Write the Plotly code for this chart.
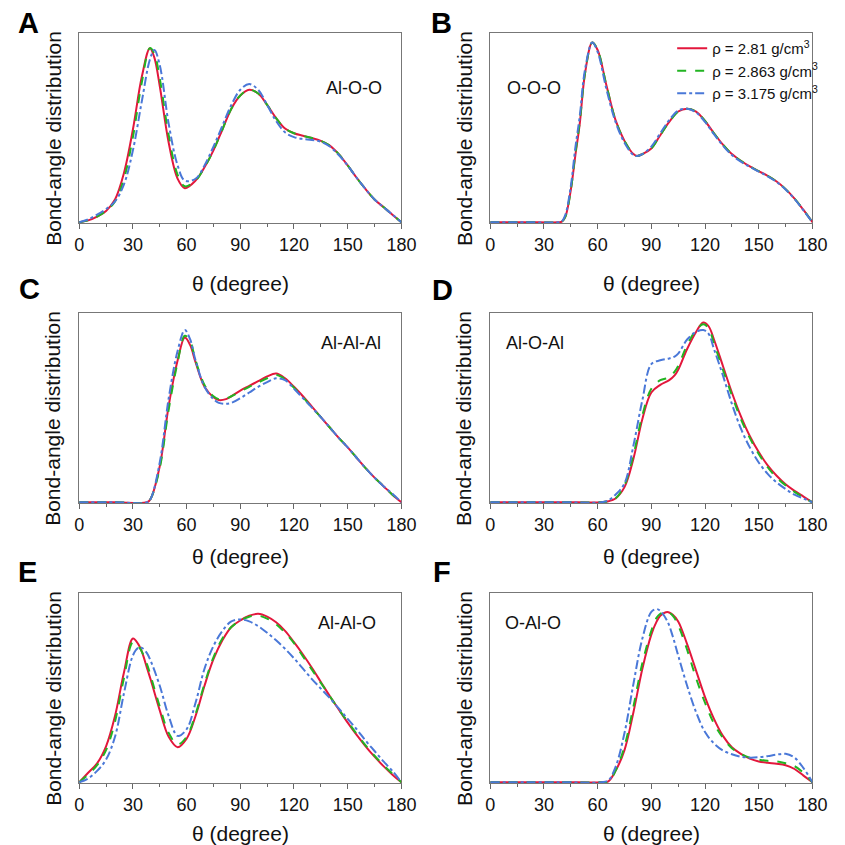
import plotly.graph_objects as go

# ---------------- data ----------------
series_names = ["ρ = 2.81 g/cm<sup>3</sup>", "ρ = 2.863 g/cm<sup>3</sup>", "ρ = 3.175 g/cm<sup>3</sup>"]
panel_labels = ["A", "B", "C", "D", "E", "F"]
bond_names = ["Al-O-O", "O-O-O", "Al-Al-Al", "Al-O-Al", "Al-Al-O", "O-Al-O"]
x_ticks = [0, 30, 60, 90, 120, 150, 180]

# Panel A: Al-O-O
xA = [0, 5, 10, 15, 20, 25, 30, 35, 39.5, 42, 45, 50, 55, 59, 65, 70, 75, 80, 85, 90, 95, 100,
      105, 110, 115, 120, 125, 130, 135, 140, 145, 150, 155, 160, 165, 170, 175, 180]
A_red = [0, 0.01, 0.03, 0.06, 0.12, 0.26, 0.49, 0.77, 0.92, 0.87, 0.72, 0.42, 0.23, 0.18, 0.22, 0.29,
         0.38, 0.49, 0.60, 0.67, 0.70, 0.68, 0.62, 0.55, 0.495, 0.47, 0.457, 0.445, 0.43, 0.405, 0.36,
         0.30, 0.235, 0.175, 0.12, 0.08, 0.04, 0]
A_green = [0, 0.01, 0.03, 0.06, 0.11, 0.23, 0.45, 0.74, 0.92, 0.89, 0.76, 0.46, 0.25, 0.19, 0.22, 0.29,
           0.38, 0.49, 0.60, 0.67, 0.70, 0.68, 0.62, 0.55, 0.495, 0.47, 0.457, 0.445, 0.43, 0.405, 0.36,
           0.30, 0.235, 0.175, 0.12, 0.08, 0.04, 0]
A_blue = [0, 0.015, 0.04, 0.07, 0.11, 0.20, 0.38, 0.64, 0.86, 0.91, 0.83, 0.52, 0.30, 0.22, 0.23, 0.30,
          0.40, 0.51, 0.62, 0.70, 0.73, 0.70, 0.62, 0.535, 0.475, 0.45, 0.44, 0.435, 0.425, 0.40,
          0.355, 0.30, 0.235, 0.175, 0.12, 0.08, 0.04, 0]

# Panel B: O-O-O
xB = [0, 20, 38, 40, 42, 45, 47.5, 50, 53, 57, 60, 65, 70, 75, 80, 82, 85, 90, 95, 100, 105, 110,
      115, 120, 125, 130, 135, 140, 145, 150, 155, 160, 165, 170, 175, 180]
B_red = [0, 0, 0, 0.003, 0.03, 0.17, 0.35, 0.52, 0.79, 0.95, 0.91, 0.72, 0.54, 0.43, 0.36, 0.35, 0.36,
         0.39, 0.46, 0.53, 0.585, 0.60, 0.585, 0.535, 0.47, 0.41, 0.36, 0.325, 0.295, 0.27, 0.245,
         0.215, 0.175, 0.125, 0.065, 0]
B_green = [0, 0, 0, 0.003, 0.03, 0.17, 0.36, 0.53, 0.79, 0.95, 0.91, 0.72, 0.54, 0.43, 0.36, 0.35, 0.36,
           0.39, 0.46, 0.53, 0.585, 0.60, 0.585, 0.535, 0.47, 0.41, 0.36, 0.325, 0.295, 0.27, 0.245,
           0.215, 0.175, 0.125, 0.065, 0]
B_blue = [0, 0, 0, 0.005, 0.04, 0.19, 0.39, 0.56, 0.81, 0.95, 0.90, 0.70, 0.53, 0.42, 0.355, 0.35, 0.36,
          0.40, 0.47, 0.54, 0.59, 0.60, 0.58, 0.53, 0.465, 0.405, 0.355, 0.32, 0.293, 0.268, 0.243,
          0.213, 0.173, 0.123, 0.063, 0]

# Panel C: Al-Al-Al
xC = [0, 20, 38, 40, 45, 50, 55, 59, 62, 65, 70, 75, 78, 82, 85, 90, 95, 100, 105, 110, 115, 120,
      125, 130, 135, 140, 145, 150, 155, 160, 165, 170, 175, 180]
C_red = [0, 0, 0, 0.02, 0.19, 0.51, 0.75, 0.87, 0.83, 0.74, 0.61, 0.555, 0.54, 0.545, 0.56, 0.59, 0.615,
         0.64, 0.665, 0.68, 0.655, 0.61, 0.56, 0.505, 0.45, 0.395, 0.34, 0.29, 0.235, 0.18, 0.13, 0.085,
         0.04, 0]
C_green = [0, 0, 0, 0.02, 0.18, 0.49, 0.74, 0.88, 0.85, 0.75, 0.62, 0.56, 0.545, 0.548, 0.56, 0.585,
           0.61, 0.632, 0.655, 0.672, 0.65, 0.605, 0.555, 0.50, 0.45, 0.395, 0.34, 0.29, 0.235, 0.18,
           0.13, 0.085, 0.04, 0]
C_blue = [0, 0, 0, 0.02, 0.21, 0.55, 0.80, 0.91, 0.86, 0.75, 0.61, 0.545, 0.525, 0.52, 0.525, 0.55,
          0.58, 0.61, 0.635, 0.655, 0.645, 0.60, 0.55, 0.50, 0.45, 0.395, 0.34, 0.29, 0.235, 0.18,
          0.13, 0.085, 0.045, 0]

# Panel D: Al-O-Al
xD = [0, 40, 62, 66, 70, 75, 80, 85, 90, 95, 100, 103, 105, 110, 115, 119, 122, 125, 130, 135, 140,
      145, 150, 155, 160, 165, 170, 175, 180]
D_red = [0, 0, 0, 0.005, 0.02, 0.08, 0.23, 0.44, 0.58, 0.62, 0.645, 0.67, 0.70, 0.81, 0.90, 0.95,
         0.93, 0.86, 0.72, 0.58, 0.455, 0.35, 0.265, 0.195, 0.14, 0.095, 0.06, 0.03, 0]
D_green = [0, 0, 0, 0.005, 0.02, 0.09, 0.25, 0.46, 0.60, 0.645, 0.66, 0.69, 0.72, 0.83, 0.91, 0.94,
           0.92, 0.84, 0.70, 0.565, 0.44, 0.34, 0.255, 0.185, 0.13, 0.09, 0.055, 0.025, 0]
D_blue = [0, 0, 0, 0.01, 0.04, 0.10, 0.30, 0.54, 0.73, 0.75, 0.76, 0.77, 0.785, 0.86, 0.90, 0.91,
          0.89, 0.81, 0.67, 0.52, 0.39, 0.29, 0.21, 0.15, 0.105, 0.07, 0.04, 0.02, 0]

# Panel E: Al-Al-O
xE = [0, 5, 10, 15, 20, 25, 30, 33, 35, 38, 40, 45, 50, 55, 60, 65, 70, 75, 80, 85, 90, 95, 100,
      105, 110, 115, 120, 125, 130, 135, 140, 145, 150, 155, 160, 165, 170, 175, 180]
E_red = [0, 0.05, 0.10, 0.19, 0.35, 0.58, 0.76, 0.73, 0.69, 0.60, 0.54, 0.38, 0.24, 0.185, 0.23,
         0.35, 0.51, 0.65, 0.75, 0.82, 0.855, 0.88, 0.89, 0.875, 0.845, 0.80, 0.74, 0.675, 0.605, 0.53,
         0.455, 0.385, 0.315, 0.25, 0.19, 0.135, 0.085, 0.04, 0]
E_green = [0, 0.04, 0.09, 0.17, 0.32, 0.55, 0.74, 0.72, 0.69, 0.62, 0.56, 0.40, 0.26, 0.20, 0.24,
           0.36, 0.52, 0.66, 0.76, 0.82, 0.855, 0.875, 0.88, 0.865, 0.835, 0.79, 0.735, 0.665, 0.595,
           0.525, 0.455, 0.385, 0.32, 0.255, 0.195, 0.14, 0.09, 0.045, 0]
E_blue = [0, 0.02, 0.06, 0.12, 0.24, 0.47, 0.67, 0.71, 0.71, 0.68, 0.64, 0.51, 0.35, 0.245, 0.28,
          0.42, 0.60, 0.72, 0.80, 0.85, 0.86, 0.85, 0.825, 0.79, 0.75, 0.705, 0.655, 0.60, 0.545,
          0.495, 0.445, 0.39, 0.335, 0.28, 0.22, 0.165, 0.11, 0.06, 0]

# Panel F: O-Al-O
xF = [0, 40, 62, 66, 70, 75, 80, 85, 90, 93, 95, 99, 102, 105, 110, 115, 120, 125, 130, 135, 140,
      145, 150, 155, 160, 165, 170, 175, 180]
F_red = [0, 0, 0, 0.005, 0.06, 0.17, 0.37, 0.60, 0.78, 0.85, 0.88, 0.90, 0.885, 0.85, 0.73, 0.59,
         0.45, 0.335, 0.245, 0.185, 0.15, 0.125, 0.11, 0.103, 0.098, 0.09, 0.07, 0.035, 0]
F_green = [0, 0, 0, 0.005, 0.06, 0.19, 0.40, 0.63, 0.80, 0.87, 0.89, 0.90, 0.88, 0.83, 0.70, 0.55,
           0.42, 0.31, 0.235, 0.18, 0.15, 0.13, 0.12, 0.113, 0.11, 0.10, 0.085, 0.05, 0]
F_blue = [0, 0, 0, 0.01, 0.08, 0.26, 0.52, 0.76, 0.90, 0.915, 0.905, 0.85, 0.77, 0.67, 0.51, 0.37,
          0.265, 0.205, 0.168, 0.148, 0.135, 0.13, 0.132, 0.138, 0.146, 0.15, 0.13, 0.075, 0]

panels = [
    (xA, [A_red, A_green, A_blue]),
    (xB, [B_red, B_green, B_blue]),
    (xC, [C_red, C_green, C_blue]),
    (xD, [D_red, D_green, D_blue]),
    (xE, [E_red, E_green, E_blue]),
    (xF, [F_red, F_green, F_blue]),
]

# ---------------- styling / layout ----------------
W = H = 845
FONT = "Liberation Sans, Arial, Helvetica, sans-serif"
colors = ["#E3173C", "#22B422", "#4A78D8"]
dashes = ["solid", "dash", "dashdot"]

col_px = [(76, 406), (497, 827)]
row_px = [(33, 223), (313, 503), (593, 783)]
xtitle_offset = [60, 53, 50]
name_pos = [(153.8, 0.71), (24.5, 0.71), (151.6, 0.84), (25.0, 0.84), (149.5, 0.84), (24.0, 0.84)]
letter_px = [(24, 23.5), (447.5, 23), (25, 289), (448, 290), (23, 572), (448, 572)]


def px_x(p):
    return p / W


def px_y(p):
    return 1 - p / H


fig = go.Figure()
annotations = []
layout = {}
for i, (xs, ys_list) in enumerate(panels):
    r, c = divmod(i, 2)
    ax = "" if i == 0 else str(i + 1)
    x0, x1 = col_px[c]
    y0, y1 = row_px[r]
    for k, ys in enumerate(ys_list):
        fig.add_trace(go.Scatter(
            x=xs, y=ys, mode="lines", xaxis="x" + ax, yaxis="y" + ax,
            line=dict(color=colors[k], width=2, dash=dashes[k], shape="spline", smoothing=1.0),
            name=series_names[k], showlegend=(i == 1), legendgroup=str(k),
        ))
    layout["xaxis" + ax] = dict(
        domain=[px_x(x0), px_x(x1)], anchor="y" + ax, range=[0, 180],
        tickvals=x_ticks, ticks="outside", ticklen=5, tickwidth=1, tickcolor="#666",
        minor=dict(dtick=15, tick0=0, ticks="outside", ticklen=3, tickcolor="#666", showgrid=False),
        showline=True, mirror=True, linecolor="#777", linewidth=1,
        showgrid=False, zeroline=False, layer="below traces",
        tickfont=dict(family=FONT, size=18, color="#111"),
    )
    layout["yaxis" + ax] = dict(
        domain=[px_y(y1), px_y(y0)], anchor="x" + ax, range=[-0.004, 1.0],
        showticklabels=False, ticks="", showline=True, mirror=True, linecolor="#777",
        linewidth=1, showgrid=False, zeroline=False, layer="below traces",
    )
    # y title
    annotations.append(dict(
        text="Bond-angle distribution", textangle=-90, xref="paper", yref="paper",
        x=px_x(x0 - 27), y=px_y((y0 + y1) / 2 + 10), showarrow=False,
        font=dict(family=FONT, size=21, color="#111"), xanchor="center", yanchor="middle",
    ))
    # x title
    annotations.append(dict(
        text="θ (degree)", xref="paper", yref="paper",
        x=px_x((x0 + x1) / 2), y=px_y(y1 + xtitle_offset[r]), showarrow=False,
        font=dict(family=FONT, size=21, color="#111"), xanchor="center", yanchor="middle",
    ))
    # bond name
    annotations.append(dict(
        text=bond_names[i], xref="x" + ax, yref="y" + ax, x=name_pos[i][0], y=name_pos[i][1],
        showarrow=False, font=dict(family=FONT, size=18, color="#111"),
        xanchor="center", yanchor="middle",
    ))
    # panel letter
    annotations.append(dict(
        text="<b>" + panel_labels[i] + "</b>", xref="paper", yref="paper",
        x=px_x(letter_px[i][0]), y=px_y(letter_px[i][1]), showarrow=False,
        font=dict(family=FONT, size=29, color="#000"), xanchor="center", yanchor="middle",
    ))

fig.update_layout(
    width=W, height=H, margin=dict(l=0, r=0, t=0, b=0),
    paper_bgcolor="white", plot_bgcolor="white",
    font=dict(family=FONT, color="#111"),
    annotations=annotations,
    legend=dict(
        x=px_x(838), y=px_y(32), xanchor="right", yanchor="top",
        bgcolor="rgba(0,0,0,0)", font=dict(family=FONT, size=15, color="#111"),
        tracegroupgap=0, itemwidth=30,
    ),
    **layout,
)

fig.write_html("out.html")
